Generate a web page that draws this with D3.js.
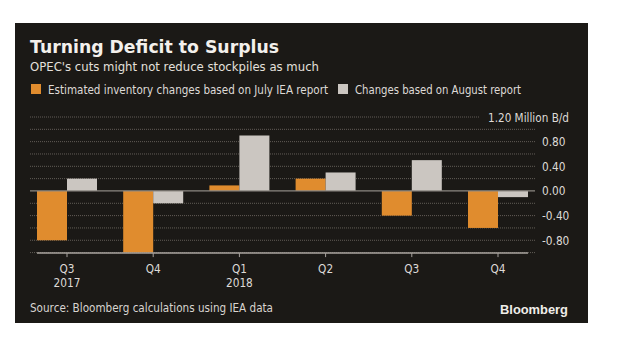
<!DOCTYPE html>
<html><head><meta charset="utf-8">
<script src="https://cdn.jsdelivr.net/npm/d3@7"></script>
<style>html,body{margin:0;padding:0;background:#fff;}svg{display:block;}</style>
</head><body>
<script>
const quarters = ["Q3", "Q4", "Q1", "Q2", "Q3 ", "Q4 "];
const quarterLabels = ["Q3", "Q4", "Q1", "Q2", "Q3", "Q4"];
const yearLabels = ["2017", "", "2018", "", "", ""];
const julyReport = [-0.80, -1.00, 0.09, 0.20, -0.40, -0.60];
const augustReport = [0.20, -0.20, 0.90, 0.30, 0.50, -0.10];
const seriesNames = ["Estimated inventory changes based on July IEA report", "Changes based on August report"];
const gridValues = [-1.0, -0.8, -0.6, -0.4, -0.2, 0.2, 0.4, 0.6, 0.8, 1.0];
const tickValues = [0.8, 0.4, 0.0, -0.4, -0.8];
const topTick = 1.2;

const W = 620, H = 355;
const colors = ["#e08c2e", "#cbc6c1"];
const bg = "#1b1916";
const svg = d3.select("body").append("svg").attr("width", W).attr("height", H);
svg.append("rect").attr("width", W).attr("height", H).attr("fill", "#fff");
svg.append("rect").attr("x", 15).attr("y", 23).attr("width", 573).attr("height", 300).attr("fill", bg);

const font = "'DejaVu Sans', Verdana, sans-serif";
// horizontally fit text: either to a target width or by a factor
function fit(sel, width) {
  sel.each(function () {
    const w = this.getComputedTextLength();
    const target = width < 2 ? w * width : width;
    d3.select(this).attr("textLength", target).attr("lengthAdjust", "spacingAndGlyphs");
  });
  return sel;
}

svg.append("text").attr("x", 30).attr("y", 53).attr("font-family", font).attr("font-weight", "bold")
  .attr("font-size", 17.5).attr("fill", "#f3f0ec").text("Turning Deficit to Surplus").call(fit, 249);
svg.append("text").attr("x", 30).attr("y", 71).attr("font-family", font)
  .attr("font-size", 12.5).attr("fill", "#e4e0dc").text("OPEC's cuts might not reduce stockpiles as much").call(fit, 289);

// legend
const leg = [{x: 31, tx: 48, w: 280}, {x: 338, tx: 355, w: 166}];
leg.forEach((l, i) => {
  svg.append("rect").attr("x", l.x).attr("y", 84).attr("width", 10).attr("height", 10).attr("fill", colors[i]);
  svg.append("text").attr("x", l.tx).attr("y", 94).attr("font-family", font).attr("font-size", 12)
    .attr("fill", "#dedad6").text(seriesNames[i]).call(fit, l.w);
});

const y = d3.scaleLinear().domain([-1, 1.2]).range([252.6, 117]);
const x0 = d3.scaleBand().domain(quarters).range([23.9, 541.1]).paddingInner(0.304).paddingOuter(0.152);
const x1 = d3.scaleBand().domain([0, 1]).range([0, x0.bandwidth()]);

// gridlines
svg.append("g").selectAll("line").data(gridValues).join("line")
  .attr("x1", 30).attr("x2", 535).attr("y1", d => y(d)).attr("y2", d => y(d))
  .attr("stroke", "#625d57").attr("stroke-width", 1).attr("stroke-dasharray", "1,1");
svg.append("line").attr("x1", 30).attr("x2", 480).attr("y1", y(topTick)).attr("y2", y(topTick))
  .attr("stroke", "#625d57").attr("stroke-width", 1).attr("stroke-dasharray", "1,1");

// bars
const rows = quarters.map((q, i) => ({q, vals: [julyReport[i], augustReport[i]]}));
const grp = svg.append("g").selectAll("g").data(rows).join("g")
  .attr("transform", d => `translate(${x0(d.q)},0)`);
grp.selectAll("rect").data(d => d.vals.map((v, k) => ({v, k}))).join("rect")
  .attr("x", d => x1(d.k)).attr("width", x1.bandwidth())
  .attr("y", d => y(Math.max(0, d.v))).attr("height", d => Math.abs(y(d.v) - y(0)))
  .attr("fill", d => colors[d.k]);

// zero line
svg.append("line").attr("x1", 30).attr("x2", 535).attr("y1", y(0)).attr("y2", y(0))
  .attr("stroke", "#8d8882").attr("stroke-width", 1.2);

// y labels
svg.append("g").selectAll("text").data(tickValues).join("text")
  .attr("x", 542).attr("y", d => y(d) + 4.5).attr("font-family", font).attr("font-size", 12)
  .attr("fill", "#dedad6").text(d => d3.format(".2f")(d).replace("−", "-")).call(fit, 0.88);
svg.append("text").attr("x", 569).attr("y", y(topTick) + 4.5).attr("text-anchor", "end")
  .attr("font-family", font).attr("font-size", 12).attr("fill", "#dedad6")
  .text(d3.format(".2f")(topTick) + " Million B/d").call(fit, 81);

// x axis
const xAxis = d3.axisBottom(x0).tickSize(4).tickFormat(() => "");
const ax = svg.append("g").attr("transform", `translate(0,${y(-1) + 0.5})`).call(xAxis);
ax.select(".domain").remove();
ax.selectAll(".tick line").attr("stroke", "#a8a39e");
svg.append("line").attr("x1", x0(quarters[0])).attr("x2", x0(quarters[5]) + x0.bandwidth())
  .attr("y1", y(-1) + 0.5).attr("y2", y(-1) + 0.5).attr("stroke", "#a8a39e").attr("stroke-width", 1.5);

const cx = q => x0(q) + x0.bandwidth() / 2;
svg.append("g").selectAll("text").data(quarters).join("text")
  .attr("x", cx).attr("y", 273).attr("text-anchor", "middle").attr("font-family", font)
  .attr("font-size", 12).attr("fill", "#dedad6").text((d, i) => quarterLabels[i]).call(fit, 0.88);
svg.append("g").selectAll("text").data(quarters).join("text")
  .attr("x", cx).attr("y", 287).attr("text-anchor", "middle").attr("font-family", font)
  .attr("font-size", 12).attr("fill", "#dedad6").text((d, i) => yearLabels[i])
  .filter((d, i) => yearLabels[i] !== "").call(fit, 0.88);

svg.append("text").attr("x", 30).attr("y", 312).attr("font-family", font).attr("font-size", 12)
  .attr("fill", "#d8d4d0").text("Source: Bloomberg calculations using IEA data").call(fit, 243);
svg.append("text").attr("x", 568).attr("y", 314).attr("text-anchor", "end")
  .attr("font-family", "'Liberation Sans', Arial, sans-serif").attr("font-weight", "bold")
  .attr("font-size", 13.5).attr("fill", "#f0ede9").text("Bloomberg").call(fit, 68);
</script>
</body></html>
